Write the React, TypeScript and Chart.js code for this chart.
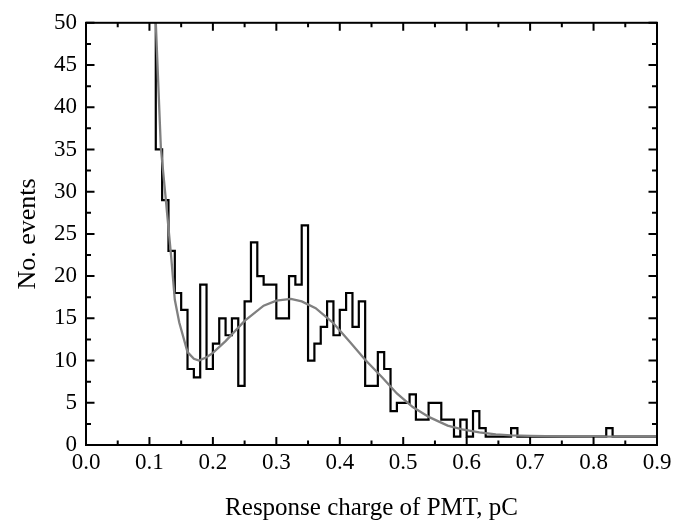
import React, { useEffect, useRef } from "react";
import { Chart, registerables } from "chart.js";

Chart.register(...registerables);

// Histogram: left edge of each 0.01-wide bin and its count
const binLeft = [
  0.10, 0.11, 0.12, 0.13, 0.14, 0.15, 0.16, 0.17, 0.18, 0.19,
  0.20, 0.21, 0.22, 0.23, 0.24, 0.25, 0.26, 0.27, 0.28, 0.29,
  0.30, 0.31, 0.32, 0.33, 0.34, 0.35, 0.36, 0.37, 0.38, 0.39,
  0.40, 0.41, 0.42, 0.43, 0.44, 0.45, 0.46, 0.47, 0.48, 0.49,
  0.50, 0.51, 0.52, 0.53, 0.54, 0.55, 0.56, 0.57, 0.58, 0.59,
  0.60, 0.61, 0.62, 0.63, 0.64, 0.65, 0.66, 0.67, 0.68, 0.69,
  0.70, 0.71, 0.72, 0.73, 0.74, 0.75, 0.76, 0.77, 0.78, 0.79,
  0.80, 0.81, 0.82, 0.83, 0.84, 0.85, 0.86, 0.87, 0.88, 0.89,
];
const binCount = [
  80, 35, 29, 23, 18, 16, 9, 8, 19, 9,
  12, 15, 13, 15, 7, 17, 24, 20, 19, 19,
  15, 15, 20, 19, 26, 10, 12, 14, 17, 13,
  16, 18, 14, 17, 7, 7, 11, 9, 4, 5,
  5, 6, 3, 3, 5, 5, 3, 3, 1, 3,
  1, 4, 2, 1, 1, 1, 1, 2, 1, 1,
  1, 1, 1, 1, 1, 1, 1, 1, 1, 1,
  1, 1, 2, 1, 1, 1, 1, 1, 1, 1,
];
const histEnd = 0.90;

// Fitted curve
const fitX = [
  0.109, 0.118, 0.126, 0.134, 0.140, 0.147, 0.160, 0.170, 0.178, 0.190,
  0.200, 0.220, 0.250, 0.280, 0.300, 0.323, 0.340, 0.362, 0.389, 0.415,
  0.440, 0.467, 0.490, 0.515, 0.541, 0.570, 0.593, 0.620, 0.646, 0.670,
  0.700, 0.750, 0.800, 0.900,
];
const fitY = [
  51.9, 35.2, 28.9, 22.5, 17.2, 14.5, 11.0, 10.2, 10.0, 10.4,
  10.9, 12.3, 14.7, 16.5, 17.1, 17.3, 17.0, 16.2, 14.5, 12.3,
  10.1, 8.0, 6.1, 4.5, 3.3, 2.3, 1.85, 1.5, 1.25, 1.15,
  1.08, 1.03, 1.0, 1.0,
];

const xMin = 0;
const xMax = 0.9;
const xStep = 0.1;
const yMin = 0;
const yMax = 50;
const yStep = 5;

const xTitle = "Response charge of PMT, pC";
const yTitle = "No. events";

const FONT = "'Liberation Serif', 'Times New Roman', serif";

const frameTicks = {
  id: "frameTicks",
  afterDatasetsDraw(chart: any) {
    const { ctx, chartArea: a, scales } = chart;
    const xs = scales.x;
    const ys = scales.y;
    ctx.save();
    ctx.strokeStyle = "#000";
    ctx.lineWidth = 2;
    ctx.strokeRect(a.left, a.top, a.right - a.left, a.bottom - a.top);
    ctx.beginPath();
    const xv = xs.ticks.map((t: any) => t.value);
    xv.forEach((v: number, i: number) => {
      const p = xs.getPixelForValue(v);
      ctx.moveTo(p, a.bottom);
      ctx.lineTo(p, a.bottom - 8);
      ctx.moveTo(p, a.top);
      ctx.lineTo(p, a.top + 8);
      if (i < xv.length - 1) {
        const m = xs.getPixelForValue((v + xv[i + 1]) / 2);
        ctx.moveTo(m, a.bottom);
        ctx.lineTo(m, a.bottom - 4.5);
        ctx.moveTo(m, a.top);
        ctx.lineTo(m, a.top + 4.5);
      }
    });
    const yv = ys.ticks.map((t: any) => t.value);
    yv.forEach((v: number, i: number) => {
      const p = ys.getPixelForValue(v);
      ctx.moveTo(a.left, p);
      ctx.lineTo(a.left + 8.5, p);
      ctx.moveTo(a.right, p);
      ctx.lineTo(a.right - 8.5, p);
      if (i < yv.length - 1) {
        const m = ys.getPixelForValue((v + yv[i + 1]) / 2);
        ctx.moveTo(a.left, m);
        ctx.lineTo(a.left + 5, m);
        ctx.moveTo(a.right, m);
        ctx.lineTo(a.right - 5, m);
      }
    });
    ctx.stroke();
    ctx.restore();
  },
};

export default function App() {
  const ref = useRef<HTMLCanvasElement | null>(null);

  useEffect(() => {
    if (!ref.current) return;
    const histData = binLeft.map((x, i) => ({ x, y: binCount[i] }));
    histData.push({ x: histEnd, y: binCount[binCount.length - 1] });
    const fitData = fitX.map((x, i) => ({ x, y: fitY[i] }));

    const chart = new Chart(ref.current, {
      type: "scatter",
      data: {
        datasets: [
          {
            label: "fit",
            data: fitData,
            showLine: true,
            borderColor: "#808080",
            borderWidth: 2.3,
            pointRadius: 0,
            tension: 0,
            fill: false,
          },
          {
            label: "histogram",
            data: histData,
            showLine: true,
            stepped: "before",
            borderColor: "#000000",
            borderWidth: 2.2,
            pointRadius: 0,
            fill: false,
          },
        ],
      },
      options: {
        animation: false,
        responsive: false,
        maintainAspectRatio: false,
        layout: { padding: { left: 0, top: 18, right: 31, bottom: 0 } },
        plugins: {
          legend: { display: false },
          tooltip: { enabled: false },
        },
        scales: {
          x: {
            type: "linear",
            min: xMin,
            max: xMax,
            grid: { display: false, drawTicks: false },
            border: { display: false },
            ticks: {
              stepSize: xStep,
              padding: 4,
              color: "#000",
              font: { family: FONT, size: 23 },
              callback: (v: any) => Number(v).toFixed(1),
              maxRotation: 0,
              autoSkip: false,
            },
            title: {
              display: true,
              text: xTitle,
              color: "#000",
              font: { family: FONT, size: 25, lineHeight: 1 },
              padding: { top: 0, bottom: 0.5 },
            },
            afterFit: (s: any) => {
              s.height = 76;
            },
          },
          y: {
            type: "linear",
            min: yMin,
            max: yMax,
            grid: { display: false, drawTicks: false },
            border: { display: false },
            ticks: {
              stepSize: yStep,
              padding: 9,
              color: "#000",
              font: { family: FONT, size: 23 },
              autoSkip: false,
            },
            title: {
              display: true,
              text: yTitle,
              color: "#000",
              font: { family: FONT, size: 26, lineHeight: 1 },
              padding: { top: 15, bottom: 0 },
            },
            afterFit: (s: any) => {
              s.width = 86;
            },
          },
        },
      },
      plugins: [frameTicks],
    });
    return () => chart.destroy();
  }, []);

  return (
    <div style={{ position: "absolute", left: 0, top: 0, width: 688, height: 521, background: "#fff" }}>
      <canvas ref={ref} width={688} height={521} style={{ display: "block" }} />
    </div>
  );
}
